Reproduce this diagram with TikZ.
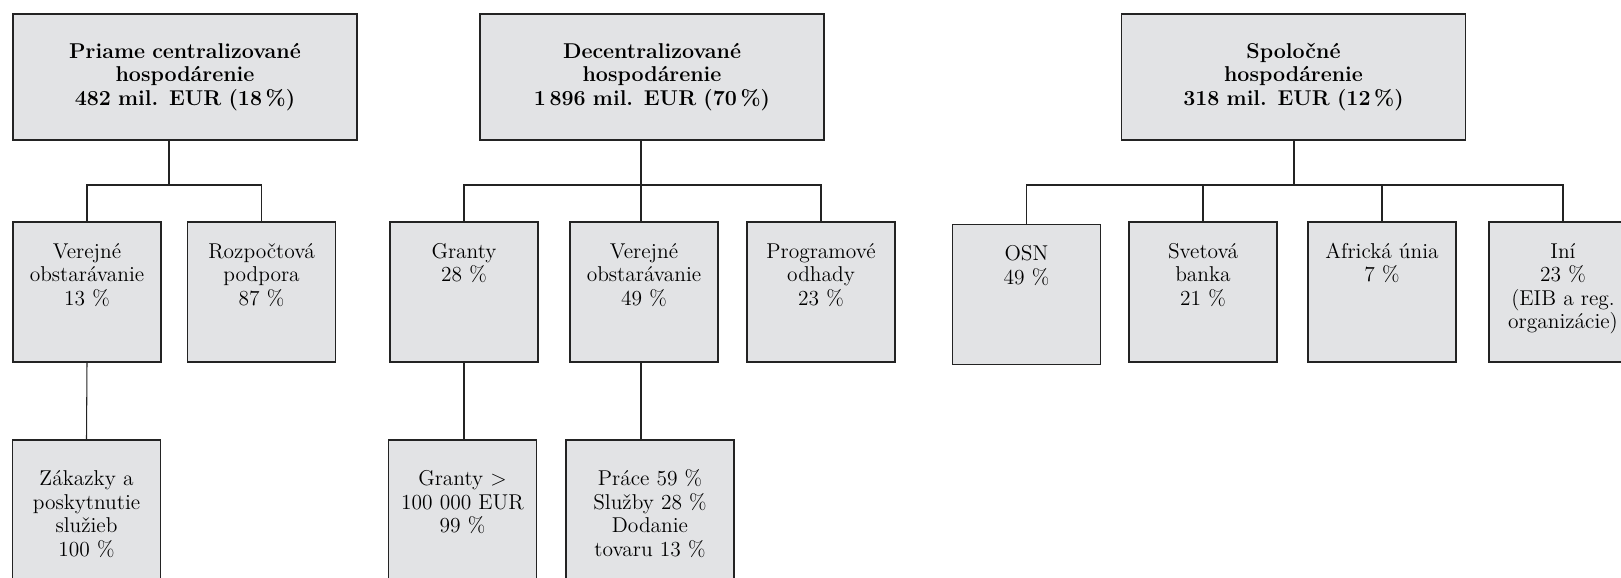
\documentclass[tikz,border=0pt]{standalone}
\usetikzlibrary{calc}
\definecolor{boxgray}{RGB}{226,227,229}
\definecolor{linegray}{RGB}{35,35,35}

\begin{document}
\begin{tikzpicture}[x=1cm,y=1cm,font=\fontsize{12.2}{13.4}\selectfont]
  \tikzset{headbox/.style={draw=linegray,line width=0.9pt,fill=boxgray,align=center,text width=6.6cm,minimum width=6.88cm,minimum height=2.52cm,font=\fontsize{12.2}{13.4}\selectfont\bfseries},
    unitbox/.style={draw=linegray,line width=0.9pt,fill=boxgray,align=center,text width=2.96cm,inner xsep=0pt,inner ysep=0pt,text height=0.72cm,text depth=2.08cm},
    subbox/.style={unitbox,text height=0.91cm,text depth=2.49cm},
    link/.style={draw=linegray,line width=0.9pt}}

  \useasboundingbox (0,0) rectangle (32.42,-11.54);
  \clip (0,0) rectangle (32.42,-11.54);

  % management modes
  \node[headbox] (direct) at (3.70,-1.54) {Priame centralizované\\hospodárenie\\482 mil. EUR (18\,\%)};
  \node[headbox] (decent) at (13.04,-1.54) {Decentralizované\\hospodárenie\\1\,896 mil. EUR (70\,\%)};
  \node[headbox] (shared) at (25.87,-1.54) {Spoločné\\hospodárenie\\318 mil. EUR (12\,\%)};

  \node[unitbox] (procA)  at (1.74,-5.84)  {Verejné\\obstarávanie\\13 \%};
  \node[unitbox] (budget) at (5.23,-5.84)  {Rozpočtová\\podpora\\87 \%};
  \node[unitbox] (grants) at (9.28,-5.84)  {Granty\\28 \%};
  \node[unitbox] (procB)  at (12.88,-5.84) {Verejné\\obstarávanie\\49 \%};
  \node[unitbox] (prog)   at (16.42,-5.84) {Programové\\odhady\\23 \%};
  \node[unitbox] (un)     at (20.53,-5.89) {OSN\\49 \%};
  \node[unitbox] (wb)     at (24.06,-5.84) {Svetová\\banka\\21 \%};
  \node[unitbox] (au)     at (27.64,-5.84) {Africká únia\\7 \%};
  \node[unitbox] (other)  at (31.26,-5.84) {Iní\\23 \%\\(EIB a reg.\\organizácie)};

  \node[subbox] (works)     at (1.73,-10.5) {Zákazky a\\poskytnutie\\služieb\\100 \%};
  \node[subbox] (biggrants) at (9.25,-10.5) {Granty >\\100 000 EUR\\99 \%};
  \node[subbox,text width=3.36cm] (split) at (13.0,-10.5) {Práce 59 \%\\Služby 28 \%\\Dodanie\\tovaru 13 \%};

  % junctions on the bars
  \coordinate (j1) at (3.38,-3.70);
  \coordinate (j2) at (12.82,-3.70);
  \coordinate (j3) at (25.88,-3.70);

  \draw[link] (j1 |- direct.south) -- (j1);
  \draw[link] (procA.north) |- (j1) -| (budget.north);

  \draw[link] (j2 |- decent.south) -- (j2 |- procB.north);
  \draw[link] (grants.north) |- (j2) -| (prog.north);

  \draw[link] (j3 |- shared.south) -- (j3);
  \draw[link] (un.north) |- (j3) -| (other.north);
  \draw[link] (wb.north) -- (wb.north |- j3);
  \draw[link] (au.north) -- (au.north |- j3);

  \draw[link,line width=0.6pt] (procA.south) -- (works.north);
  \draw[link] (grants.south) -- (grants.south |- biggrants.north);
  \draw[link] (procB.south -| j2) -- (split.north -| j2);
\end{tikzpicture}
\end{document}
